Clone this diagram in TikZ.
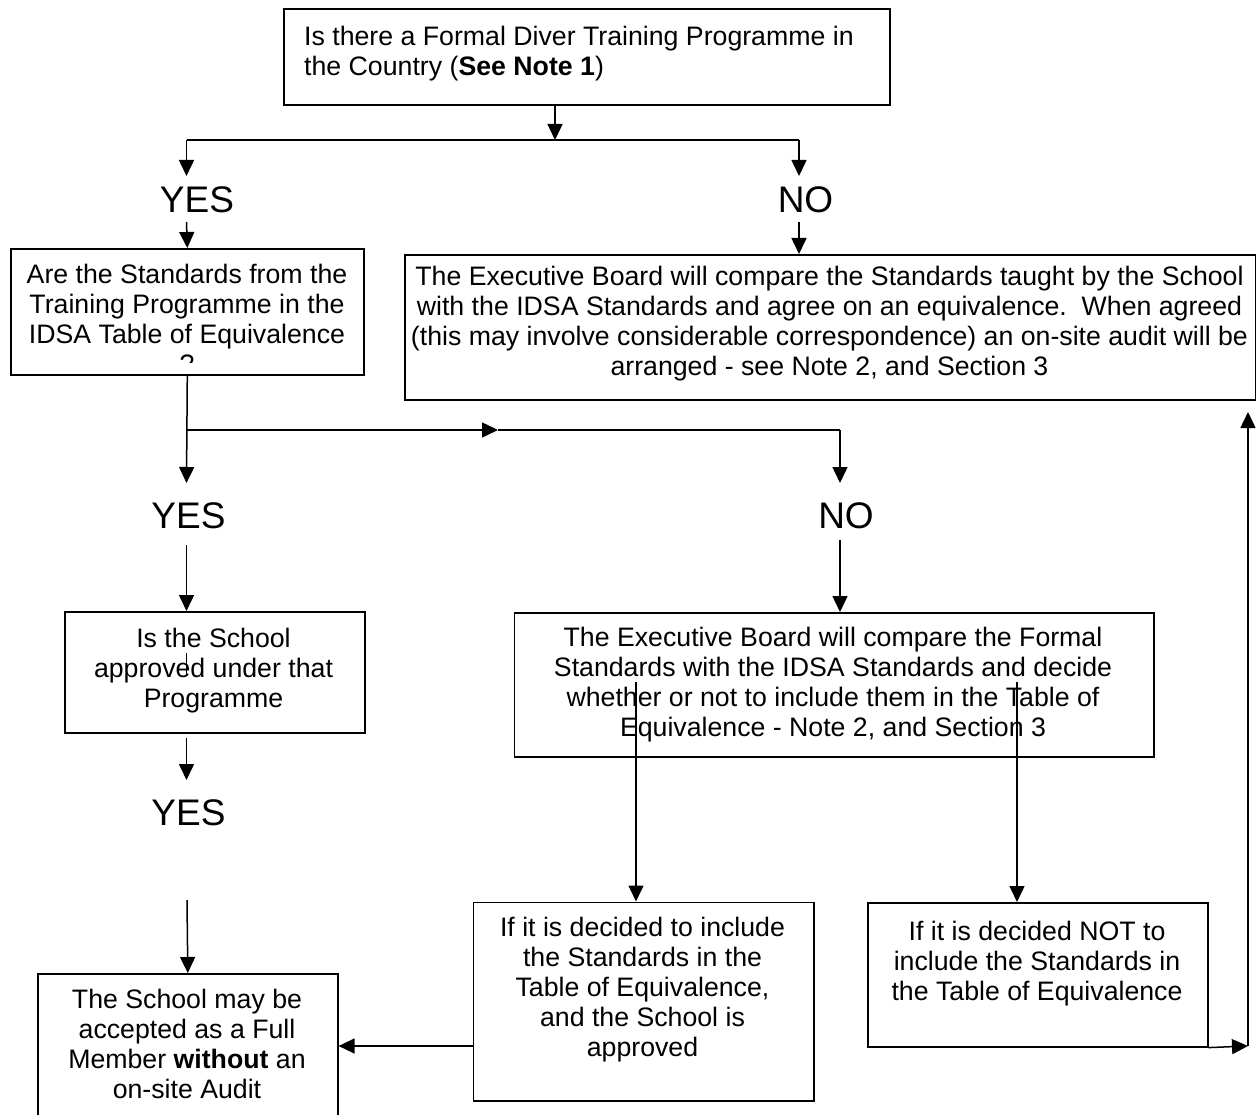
\documentclass[tikz,border=0pt]{standalone}
\usepackage{fontspec}
\setmainfont{Liberation Sans}
\usetikzlibrary{arrows.meta}
\begin{document}
\begin{tikzpicture}[x=1pt,y=-1pt,
  box/.style={draw, line width=1.6pt, rectangle, inner sep=0pt, anchor=north west},
  txt/.style={inner sep=0pt, align=center, font=\fontsize{26.7}{30}\selectfont},
  yn/.style={inner sep=0pt, font=\fontsize{37}{40}\selectfont},
  conn/.style={line width=1.5pt},
  arr/.style={conn, -{Triangle[length=16pt,width=15pt]}},
]
\useasboundingbox (0,0) rectangle (1256,1115);
\fill[white] (0,0) rectangle (1256,1115);

% boxes
\node[box, minimum width=606pt, minimum height=96pt] (b1) at (283,8) {};
\node[box, minimum width=353pt, minimum height=126pt] (b2) at (10,248) {};
\node[box, minimum width=851pt, minimum height=145pt] (b3) at (404,254) {};
\node[box, minimum width=300pt, minimum height=121pt] (b4) at (64,611) {};
\node[box, minimum width=300pt, minimum height=150pt] (b5) at (37,973) {};
\node[box, minimum width=340.5pt, minimum height=198.5pt] (b6) at (472.5,901.5) {};
\node[box, minimum width=639.5pt, minimum height=144pt] (b7) at (513.5,612) {};
\node[box, minimum width=340pt, minimum height=144pt] (b8) at (867,902) {};

% texts
\node[txt, align=left, anchor=west] (t1) at (304,54)
  {Is there a Formal Diver Training Programme in\\the Country (\textbf{See Note 1})};
\begin{scope}
  \clip (10,248) rectangle (363,363);
  \node[txt] (t2) at (187,318.5)
    {Are the Standards from the\\Training Programme in the\\IDSA Table of Equivalence\\?};
\end{scope}
\node[txt] (t3) at (829.5,324)
  {The Executive Board will compare the Standards taught by the School\\with the IDSA Standards and agree on an equivalence.\ \ When agreed\\(this may involve considerable correspondence) an on-site audit will be\\arranged - see Note 2, and Section 3};
\node[txt] (t4) at (213.5,671) {Is the School\\approved under that\\Programme};
\node[txt] (t5) at (187,1044) {The School may be\\accepted as a Full\\Member \textbf{without} an\\on-site Audit};
\node[txt] (t6) at (642.5,990) {If it is decided to include\\the Standards in the\\Table of Equivalence,\\and the School is\\approved};
\node[txt] (t7) at (833,685) {The Executive Board will compare the Formal\\Standards with the IDSA Standards and decide\\whether or not to include them in the Table of\\Equivalence - Note 2, and Section 3};
\node[txt] (t8) at (1037,964) {If it is decided NOT to\\include the Standards in\\the Table of Equivalence};

% yes / no labels
\node[yn] (y1) at (197,200) {YES};
\node[yn] (n1) at (805.5,200) {NO};
\node[yn] (y2) at (188.5,515.5) {YES};
\node[yn] (n2) at (846,515.5) {NO};
\node[yn] (y3) at (188.5,813) {YES};

% coordinates
\coordinate (j1) at (555,140);
\coordinate (jY) at (186.5,140);
\coordinate (jN) at (799,140);
\coordinate (aY1) at (186.5,176);
\coordinate (aN1) at (799,176);
\coordinate (sY1) at (186.5,222);
\coordinate (sN1) at (799,222);
\coordinate (j2) at (186.5,430);
\coordinate (m2) at (498,430);
\coordinate (j3) at (840,430);
\coordinate (aY2) at (186.5,483);
\coordinate (aN2) at (840,483);
\coordinate (sN2) at (840,540);
\coordinate (sY2) at (186.5,545);
\coordinate (sB4) at (186.5,738);
\coordinate (aY3) at (186.5,780);
\coordinate (sY3) at (187,900);
\coordinate (k1) at (636,682);
\coordinate (k2) at (1017,682);
\coordinate (e1) at (472.5,1046);
\coordinate (r1) at (1248,1046);
\coordinate (r2) at (1248,412);
\coordinate (q1) at (186.5,653);
\coordinate (q2) at (186.5,675);

% connectors
\draw[arr] (b1.south -| j1) -- (j1);
\draw[conn] (jY) -- (jN);
\draw[arr] (jY) -- (aY1);
\draw[arr] (jN) -- (aN1);
\draw[arr] (sY1) -- (b2.north);
\draw[arr] (sN1) -- (b3.north -| jN);
\draw[arr] (b2.south) -- (aY2);
\draw[arr] (j2) -- (m2);
\draw[conn] (m2) -- (j3);
\draw[arr] (j3) -- (aN2);
\draw[arr] (sN2) -- (b7.north -| j3);
\draw[arr] (sY2) -- (b4.north -| sY2);
\draw[conn] (q1) -- (q2);
\draw[arr] (sB4) -- (aY3);
\draw[arr] (sY3) -- (b5.north);
\draw[arr] (k1) -- (b6.north -| k1);
\draw[arr] (k2) -- (b8.north -| k2);
\draw[arr] (e1) -- (b5.east |- e1);
\draw[arr] (b8.south east) -- (r1);
\draw[arr] (r1) -- (r2);
\end{tikzpicture}
\end{document}
